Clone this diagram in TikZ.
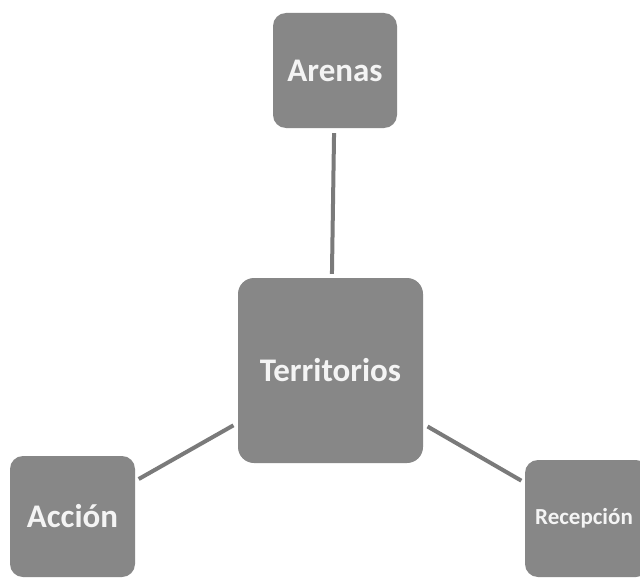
\documentclass[tikz,border=0pt]{standalone}
\usepackage{fontspec}
\setmainfont{Carlito}
\definecolor{boxgray}{HTML}{878787}
\definecolor{linegray}{HTML}{7A7A7A}
\definecolor{txtwhite}{HTML}{F4F4F4}
\begin{document}
\begin{tikzpicture}[x=1pt,y=-1pt,
  box/.style={fill=boxgray, rounded corners=13pt, inner sep=0pt, text=txtwhite,
    font=\fontsize{33}{36}\selectfont\bfseries},
  link/.style={draw=linegray, line width=4pt, shorten <=5pt, shorten >=4pt}]
\useasboundingbox[fill=white] (0,0) rectangle (640,578);
\node[box, minimum width=124pt, minimum height=115pt] (are) at (335,70.5) {\raisebox{-4pt}{Arenas}};
\node[box, minimum width=185pt, minimum height=185pt, rounded corners=16pt] (ter) at (330.5,370.5) {\raisebox{-3pt}{Territorios}};
\node[box, minimum width=125pt, minimum height=121pt] (acc) at (72.5,516.5) {\raisebox{-4pt}{Acción}};
\node[box, minimum width=124pt, minimum height=117pt,
  font=\fontsize{23}{26}\selectfont\bfseries] (rec) at (587,518.5) {\hspace*{-6pt}\raisebox{-4pt}{Recepción}};
\draw[link] (are) -- (ter);
\draw[link] (ter) -- (acc);
\draw[link] (ter) -- (rec);
\end{tikzpicture}
\end{document}
